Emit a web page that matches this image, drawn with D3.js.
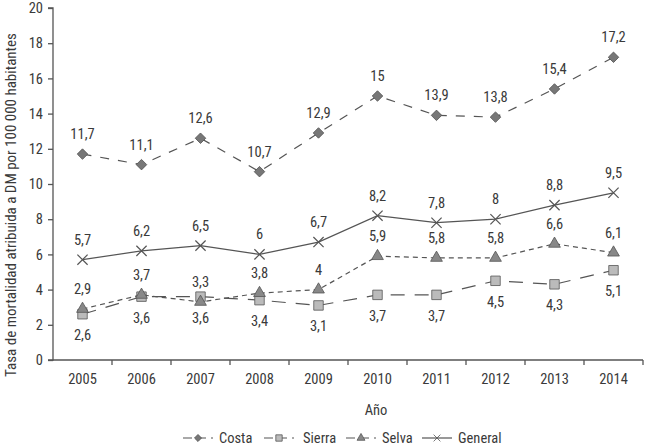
<!DOCTYPE html>
<html>
<head>
<meta charset="utf-8">
<script src="https://cdn.jsdelivr.net/npm/d3@7"></script>
<style>
  body { margin: 0; background: #fff; }
  svg text { font-family: "Liberation Sans Narrow", "Roboto Condensed", "DejaVu Sans Condensed", sans-serif; fill: #3a3a3a; font-weight: normal; }
</style>
</head>
<body>
<div id="chart"></div>
<script>
// data
var years = ['2005', '2006', '2007', '2008', '2009', '2010', '2011', '2012', '2013', '2014'];
var costa = [11.7, 11.1, 12.6, 10.7, 12.9, 15, 13.9, 13.8, 15.4, 17.2];
var sierra = [2.6, 3.6, 3.6, 3.4, 3.1, 3.7, 3.7, 4.5, 4.3, 5.1];
var selva = [2.9, 3.7, 3.3, 3.8, 4, 5.9, 5.8, 5.8, 6.6, 6.1];
var general = [5.7, 6.2, 6.5, 6, 6.7, 8.2, 7.8, 8, 8.8, 9.5];
var yTicks = [0, 2, 4, 6, 8, 10, 12, 14, 16, 18, 20];

var width = 645;
var height = 447;
var plotLeft = 53, plotRight = 643, plotTop = 8, plotBottom = 360;
var fontSize = '14.5px';

var series = [
  {name: 'Costa', values: costa, dash: '9,9', symbol: d3.symbolSquare, rotate: 45, fill: '#777', size: 55, labelAbove: true},
  {name: 'Sierra', values: sierra, dash: '14,10', symbol: d3.symbolSquare, rotate: 0, fill: '#bbb', size: 90, labelAbove: false},
  {name: 'Selva', values: selva, dash: '5,4', symbol: d3.symbolTriangle, rotate: 0, fill: '#888', size: 60, labelAbove: true},
  {name: 'General', values: general, dash: null, symbol: d3.symbolX, rotate: 0, fill: 'none', size: 70, labelAbove: true}
];

var svg = d3.select('#chart').append('svg')
  .attr('width', width)
  .attr('height', height);

var x = d3.scaleBand()
  .domain(years)
  .range([plotLeft, plotRight]);

var y = d3.scaleLinear()
  .domain([0, 20])
  .range([plotBottom, plotTop]);

var fmt = function (v) { return String(v).replace('.', ','); };

// axes
var yAxis = svg.append('g')
  .attr('transform', 'translate(' + plotLeft + ',0)')
  .call(d3.axisLeft(y).tickValues(yTicks).tickSize(5).tickPadding(5).tickFormat(d3.format('d')));

var xAxis = svg.append('g')
  .attr('transform', 'translate(0,' + plotBottom + ')')
  .call(d3.axisBottom(x).tickSize(0).tickPadding(14));

// category separators on the x axis
xAxis.selectAll('.sep')
  .data(years)
  .enter().append('line')
    .attr('class', 'sep')
    .attr('x1', function (d) { return x(d) + x.bandwidth(); })
    .attr('x2', function (d) { return x(d) + x.bandwidth(); })
    .attr('y1', 0)
    .attr('y2', 5);

[yAxis, xAxis].forEach(function (a) {
  a.select('.domain').attr('stroke', '#555').attr('stroke-width', 1.3);
  a.selectAll('line').attr('stroke', '#555').attr('stroke-width', 1.3);
  a.selectAll('text').style('font-size', fontSize).attr('fill', '#3a3a3a');
});
yAxis.select('.domain').attr('d', 'M-5,' + plotBottom + 'H0V' + plotTop + 'H-5');
xAxis.select('.domain').attr('d', 'M' + plotLeft + ',0H' + plotRight);

// axis titles
svg.append('text')
  .attr('transform', 'translate(16,205) rotate(-90)')
  .attr('text-anchor', 'middle')
  .style('font-size', '15px')
  .text('Tasa de mortalidad atribuida a DM por 100 000 habitantes');

svg.append('text')
  .attr('x', 376)
  .attr('y', 415)
  .attr('text-anchor', 'middle')
  .style('font-size', fontSize)
  .text('Año');

var cx = function (d, i) { return x(years[i]) + x.bandwidth() / 2; };

var line = d3.line()
  .x(function (d, i) { return cx(d, i); })
  .y(function (d) { return y(d); });

series.forEach(function (s) {
  var g = svg.append('g');

  g.append('path')
    .datum(s.values)
    .attr('d', line)
    .attr('fill', 'none')
    .attr('stroke', '#555')
    .attr('stroke-width', 1.2)
    .attr('stroke-dasharray', s.dash);

  g.selectAll('.mark')
    .data(s.values)
    .enter().append('path')
      .attr('class', 'mark')
      .attr('transform', function (d, i) {
        return 'translate(' + cx(d, i) + ',' + y(d) + ') rotate(' + s.rotate + ')';
      })
      .attr('d', d3.symbol().type(s.symbol).size(s.size))
      .attr('fill', s.fill)
      .attr('stroke', '#555')
      .attr('stroke-width', s.fill === 'none' ? 1.2 : 0.8);

  g.selectAll('.lbl')
    .data(s.values)
    .enter().append('text')
      .attr('class', 'lbl')
      .attr('x', function (d, i) { return cx(d, i); })
      .attr('y', function (d) { return s.labelAbove ? y(d) - 15 : y(d) + 26; })
      .attr('text-anchor', 'middle')
      .style('font-size', fontSize)
      .text(fmt);
});

// legend
var legendX = [183, 264, 346, 422];
var legend = svg.append('g').attr('transform', 'translate(0,438)');
series.forEach(function (s, i) {
  var lg = legend.append('g').attr('transform', 'translate(' + legendX[i] + ',0)');
  lg.append('line')
    .attr('x1', 0).attr('x2', 30)
    .attr('y1', 0).attr('y2', 0)
    .attr('stroke', '#555')
    .attr('stroke-width', 1.2)
    .attr('stroke-dasharray', s.dash ? '9,5' : null);
  lg.append('path')
    .attr('transform', 'translate(15,0) rotate(' + s.rotate + ')')
    .attr('d', d3.symbol().type(s.symbol).size(s.size * 0.45))
    .attr('fill', s.fill)
    .attr('stroke', '#555')
    .attr('stroke-width', 0.8);
  lg.append('text')
    .attr('x', i === 1 ? 39 : 36)
    .attr('y', 5)
    .style('font-size', fontSize)
    .text(s.name);
});
</script>
</body>
</html>
